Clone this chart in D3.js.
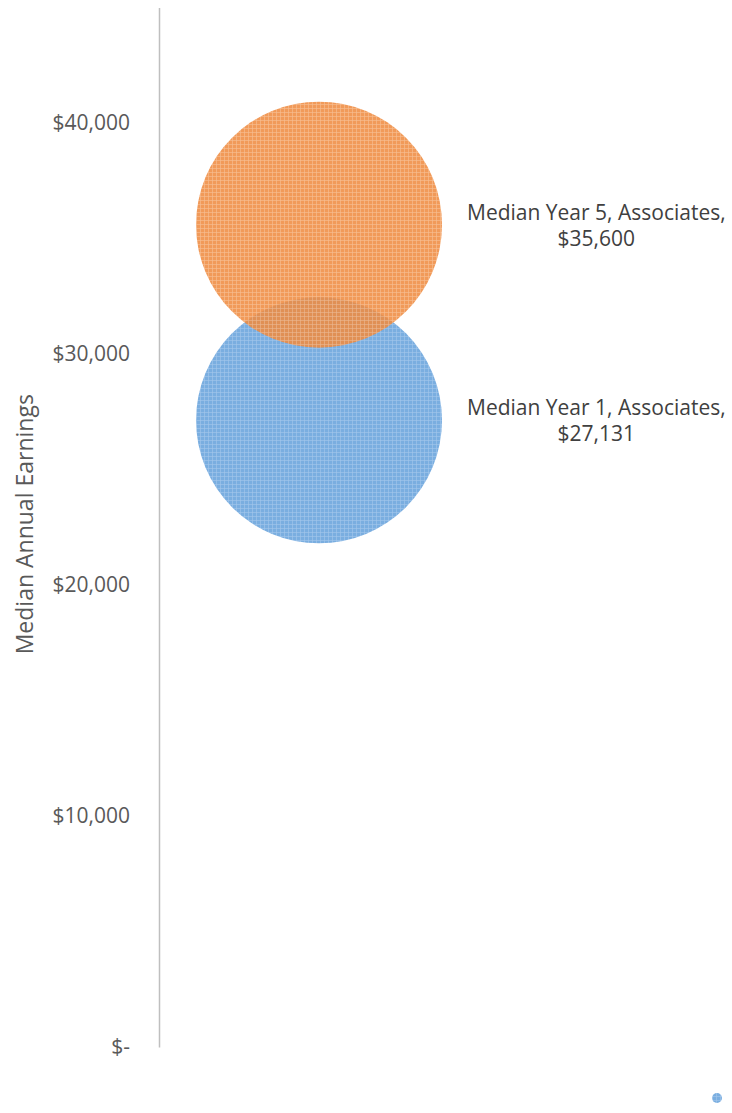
<!DOCTYPE html>
<html>
<head>
<meta charset="utf-8">
<script src="https://cdn.jsdelivr.net/npm/d3@7"></script>
<style>
  html, body { margin: 0; padding: 0; background: #fff; }
  svg { display: block; font-family: "Open Sans", "Noto Sans", sans-serif; }
</style>
</head>
<body>
<svg id="chart" width="732" height="1113"></svg>
<script>
// ---- data ----
const seriesNames = ["Median Year 1, Associates", "Median Year 5, Associates"];
const xValues = [1, 1];
const earnings = [27131, 35600];
const bubbleSizes = [1, 1];
const tickValues = [0, 10000, 20000, 30000, 40000];
const yTitle = "Median Annual Earnings";

// ---- layout ----
const svg = d3.select("#chart");
const axisX = 159;
const y = d3.scaleLinear().domain([0, 45000]).range([1047, 7.5]);
const x = d3.scaleLinear().domain([0, 2]).range([axisX, 479]);
const r = d3.scaleSqrt().domain([0, 1]).range([0, 123]);

const fmt = v => v === 0 ? "$-" : "$" + d3.format(",")(v);

// patterns
const defs = svg.append("defs");
const patBase = ["#7AAEE0", "#EF8B40"];
const patLine = ["#A3C7EB", "#F5B585"];
patBase.forEach((c, i) => {
  const p = defs.append("pattern").attr("id", "pat" + i)
    .attr("patternUnits", "userSpaceOnUse").attr("width", 4).attr("height", 4);
  p.append("rect").attr("width", 4).attr("height", 4).attr("fill", c);
  p.append("rect").attr("x", 0).attr("y", 0).attr("width", 4).attr("height", 1).attr("fill", patLine[i]).attr("opacity", 0.6);
  p.append("rect").attr("x", 0).attr("y", 0).attr("width", 1).attr("height", 4).attr("fill", patLine[i]).attr("opacity", 0.6);
});

// axis
const axis = d3.axisLeft(y).tickValues(tickValues).tickFormat(fmt)
  .tickSize(0).tickSizeOuter(0).tickPadding(29);
const gAxis = svg.append("g").attr("transform", `translate(${axisX},0)`).call(axis);
gAxis.select(".domain").attr("stroke", "#BFBFBF").attr("stroke-width", 1.5);
gAxis.selectAll(".tick text").attr("fill", "#595959").style("font-size", "21px")
  .style("font-family", '"Open Sans", sans-serif');

// axis title (centred on the plot's vertical middle)
const plotMid = (y.range()[0] + y.range()[1]) / 2;
svg.append("text")
  .attr("transform", `translate(33,${plotMid - 3}) rotate(-90)`)
  .attr("text-anchor", "middle")
  .attr("fill", "#595959")
  .style("font-size", "23px")
  .text(yTitle);

// bubbles
const data = seriesNames.map((n, i) => ({ name: n, x: xValues[i], v: earnings[i], s: bubbleSizes[i], i }));
svg.append("g").selectAll("circle").data(data).join("circle")
  .attr("cx", d => x(d.x))
  .attr("cy", d => y(d.v))
  .attr("r", d => r(d.s))
  .attr("fill", d => `url(#pat${d.i})`)
  .attr("fill-opacity", d => d.i === 1 ? 0.87 : 1);

// labels
const gl = svg.append("g");
data.forEach(d => {
  const cx = x(d.x), cy = y(d.v), rr = r(d.s);
  const t = gl.append("text").attr("text-anchor", "middle").attr("fill", "#404040")
    .style("font-size", "21px");
  const l1 = t.append("tspan").text(d.name + ",");
  const l2 = t.append("tspan").text(fmt(d.v));
  const w = Math.max(l1.node().getComputedTextLength(), l2.node().getComputedTextLength());
  const mx = cx + rr + 25 + w / 2;
  l1.attr("x", mx).attr("y", cy - 5);
  l2.attr("x", mx).attr("y", cy + 21);
});

// legend marker
svg.append("circle").attr("cx", 717).attr("cy", 1098).attr("r", 5).attr("fill", "url(#pat0)");
</script>
</body>
</html>
